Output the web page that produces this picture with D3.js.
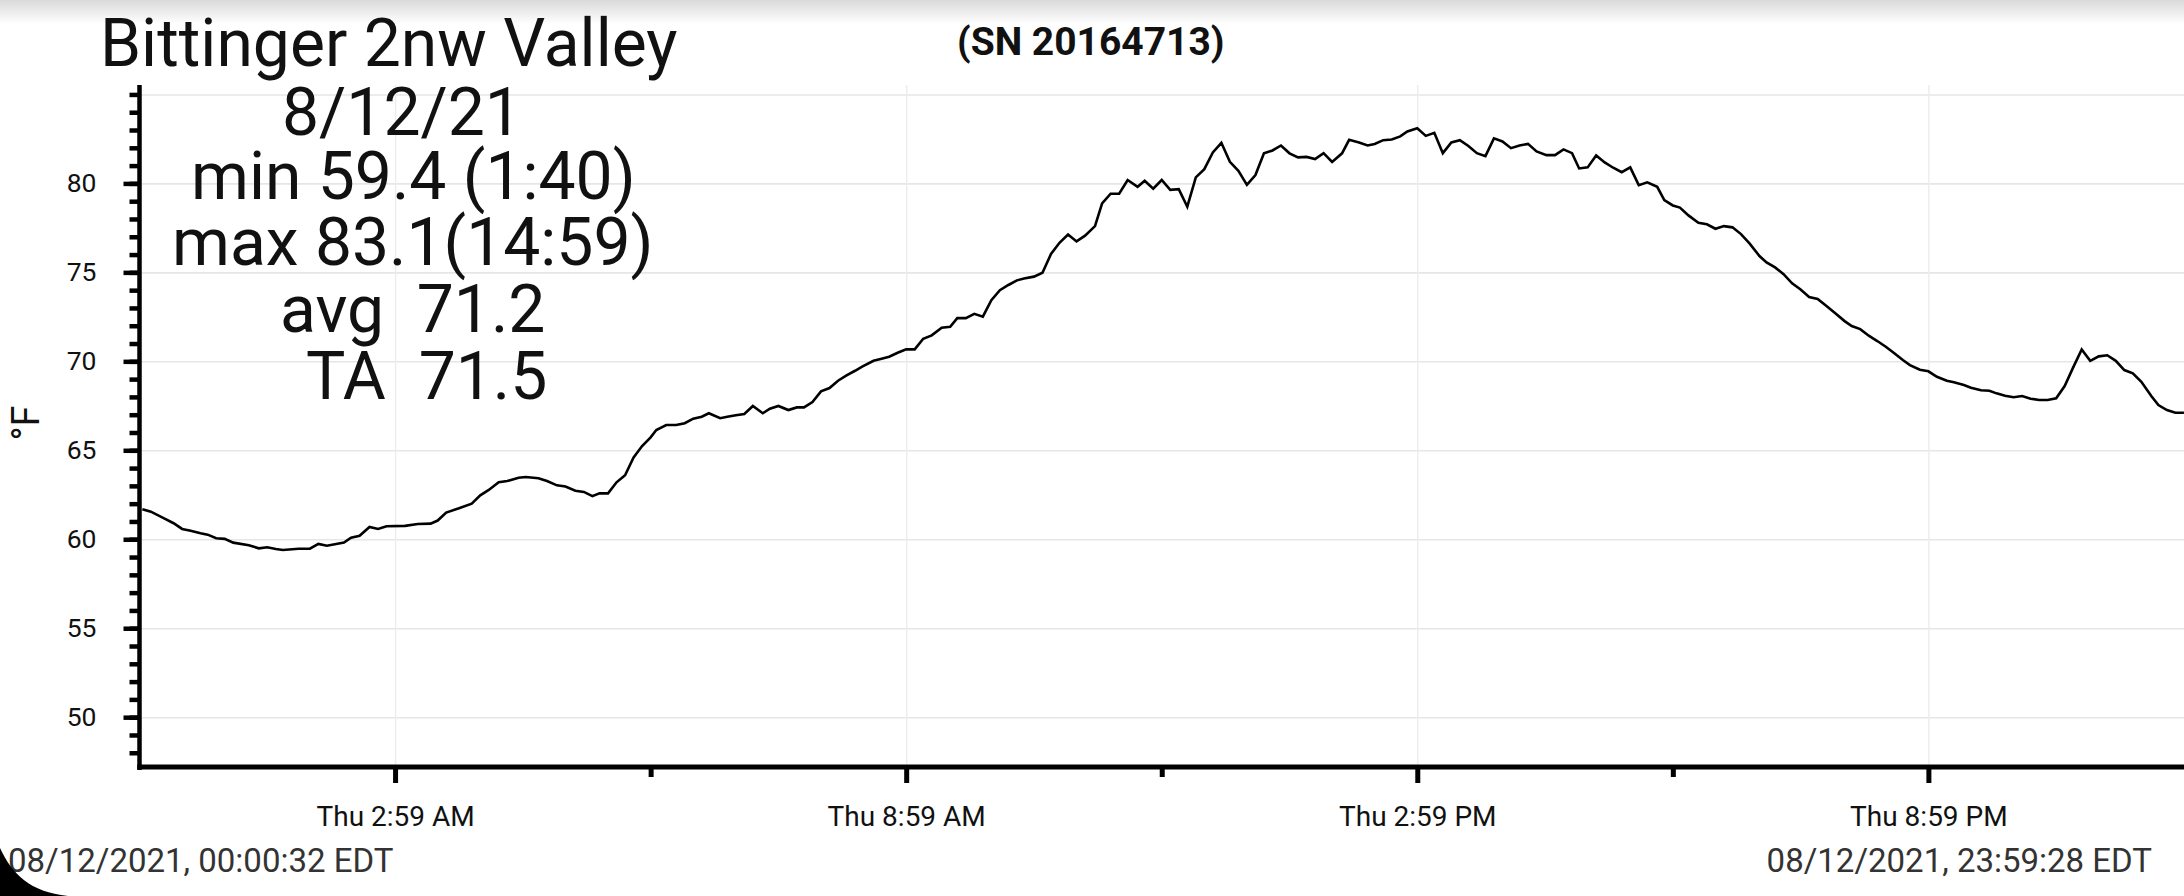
<!DOCTYPE html>
<html>
<head>
<meta charset="utf-8">
<script src="https://cdn.jsdelivr.net/npm/d3@7"></script>
<style>
  body { margin: 0; background: #fff; overflow: hidden; }
  svg { display: block; font-family: Roboto, "Noto Sans", sans-serif; }
  .stat { white-space: pre; }
</style>
</head>
<body>
<svg id="chart"></svg>
<script>
// readings, 12 Aug 2021 (local time)
var times = [
  "00:01","00:07","00:17","00:23","00:29","00:35","00:42","00:47","00:53","00:59",
  "01:05","01:16","01:23","01:29","01:35","01:40","01:51","01:59","02:05","02:11",
  "02:23","02:28","02:34","02:41","02:47","02:53","03:06","03:15","03:24","03:29",
  "03:35","03:44","03:53","03:59","04:05","04:12","04:18","04:26","04:31","04:40",
  "04:46","04:53","04:59","05:06","05:12","05:18","05:23","05:29","05:35","05:41",
  "05:47","05:53","05:59","06:03","06:10","06:17","06:23","06:29","06:35","06:40",
  "06:48","06:53","06:59","07:05","07:11","07:18","07:23","07:29","07:36","07:42",
  "07:47","07:53","07:59","08:05","08:11","08:17","08:23","08:28","08:36","08:41",
  "08:47","08:53","08:59","09:05","09:11","09:17","09:24","09:30","09:35","09:41",
  "09:47","09:53","09:59","10:05","10:11","10:17","10:22","10:29","10:35","10:41",
  "10:47","10:53","10:59","11:05","11:12","11:17","11:23","11:29","11:35","11:42",
  "11:47","11:53","11:59","12:05","12:11","12:17","12:23","12:29","12:35","12:41",
  "12:47","12:53","12:59","13:05","13:11","13:17","13:23","13:29","13:35","13:41",
  "13:47","13:53","13:59","14:06","14:11","14:18","14:24","14:29","14:35","14:41",
  "14:47","14:52","14:59","15:05","15:11","15:17","15:23","15:29","15:35","15:41",
  "15:47","15:53","15:59","16:05","16:11","16:17","16:23","16:30","16:36","16:42",
  "16:48","16:53","16:59","17:05","17:11","17:17","17:23","17:29","17:35","17:41",
  "17:48","17:53","17:59","18:04","18:10","18:17","18:23","18:29","18:35","18:41",
  "18:47","18:53","19:00","19:05","19:11","19:17","19:23","19:29","19:35","19:41",
  "19:47","19:53","20:00","20:05","20:11","20:17","20:23","20:29","20:35","20:41",
  "20:46","20:53","20:59","21:05","21:12","21:17","21:24","21:29","21:36","21:42",
  "21:47","21:53","21:59","22:05","22:11","22:17","22:23","22:29","22:35","22:41",
  "22:47","22:53","22:59","23:05","23:11","23:17","23:23","23:29","23:36","23:41",
  "23:47","23:53","23:59"
];
var temps = [
  61.69,61.55,61.14,60.90,60.58,60.48,60.34,60.26,60.06,60.02,
  59.81,59.66,59.49,59.55,59.45,59.40,59.47,59.47,59.74,59.64,
  59.81,60.09,60.20,60.69,60.58,60.73,60.75,60.86,60.88,61.05,
  61.50,61.74,62.00,62.47,62.77,63.20,63.27,63.46,63.50,63.43,
  63.27,63.03,62.96,62.73,62.66,62.42,62.58,62.58,63.20,63.60,
  64.60,65.24,65.73,66.14,66.42,66.42,66.52,66.78,66.89,67.08,
  66.80,66.89,66.97,67.04,67.49,67.08,67.34,67.49,67.26,67.41,
  67.41,67.71,68.31,68.50,68.91,69.21,69.47,69.70,70.03,70.13,
  70.26,70.48,70.67,70.67,71.27,71.46,71.89,71.94,72.43,72.43,
  72.67,72.51,73.44,74.00,74.29,74.55,74.66,74.76,74.98,76.03,
  76.66,77.13,76.74,77.06,77.60,78.88,79.42,79.42,80.19,79.81,
  80.15,79.70,80.19,79.64,79.68,78.69,80.34,80.80,81.74,82.28,
  81.21,80.71,79.92,80.47,81.69,81.85,82.13,81.69,81.46,81.49,
  81.37,81.70,81.21,81.69,82.45,82.30,82.13,82.22,82.43,82.47,
  82.64,82.92,83.10,82.67,82.84,81.70,82.30,82.43,82.10,81.70,
  81.53,82.53,82.36,81.98,82.13,82.22,81.80,81.59,81.59,81.91,
  81.70,80.84,80.90,81.57,81.18,80.88,80.63,80.90,79.90,80.06,
  79.81,79.06,78.76,78.64,78.20,77.79,77.70,77.45,77.60,77.53,
  77.15,76.63,75.92,75.56,75.28,74.90,74.38,74.04,73.61,73.50,
  73.12,72.73,72.26,71.98,71.81,71.44,71.14,70.82,70.45,70.07,
  69.79,69.53,69.44,69.13,68.91,68.82,68.67,68.52,68.37,68.35,
  68.20,68.07,67.98,68.05,67.90,67.83,67.83,67.92,68.61,69.66,
  70.67,70.03,70.28,70.34,70.03,69.51,69.33,68.85,68.05,67.54,
  67.26,67.11,67.11
];

var startTime = "00:00:32", endTime = "23:59:28";
var majorTicks = ["02:59","08:59","14:59","20:59"];
var minorTicks = ["05:59","11:59","17:59"];
var tickLabels = ["Thu 2:59 AM","Thu 8:59 AM","Thu 2:59 PM","Thu 8:59 PM"];
var yLabelTicks = [50,55,60,65,70,75,80];
var yGridTicks = [50,55,60,65,70,75,80,85];
var yMinorTicks = d3.range(48, 86);

var title = "Bittinger 2nw Valley";
var serial = "(SN 20164713)";
var statLines = ["8/12/21","min 59.4 (1:40)","max 83.1(14:59)","avg  71.2","TA  71.5"];
var footLeft = "08/12/2021, 00:00:32 EDT";
var footRight = "08/12/2021, 23:59:28 EDT";

var W = 2184, H = 896;
var svg = d3.select("#chart").attr("width", W).attr("height", H);

var parseHM = d3.timeParse("%H:%M"), parseHMS = d3.timeParse("%H:%M:%S");
var data = times.map(function(t, i){ return {t: parseHM(t), v: temps[i]}; });

var x = d3.scaleTime()
    .domain([parseHMS(startTime), parseHMS(endTime)])
    .range([141.7, 2184.6]);
var y = d3.scaleLinear()
    .domain([47.2, 85.53])
    .range([767, 85]);

var axisX = 139.5;

// top shadow band
var defs = svg.append("defs");
var grad = defs.append("linearGradient").attr("id", "topfade")
    .attr("x1", 0).attr("y1", 0).attr("x2", 0).attr("y2", 1);
grad.append("stop").attr("offset", "0%").attr("stop-color", "#d9d9d9");
grad.append("stop").attr("offset", "100%").attr("stop-color", "#ffffff");
svg.append("rect").attr("x", 0).attr("y", 0).attr("width", W).attr("height", 24)
    .attr("fill", "url(#topfade)");

// grid
svg.append("g")
    .attr("transform", "translate(" + axisX + ",0)")
    .call(d3.axisLeft(y).tickValues(yGridTicks).tickSize(-(W - axisX)).tickFormat(""))
    .call(function(g){
      g.select(".domain").remove();
      g.selectAll("line").attr("stroke", "#e6e6e6").attr("stroke-width", 1.6);
    });
svg.append("g")
    .attr("transform", "translate(0,85)")
    .call(d3.axisBottom(x).tickValues(majorTicks.map(parseHM)).tickSize(682).tickFormat(""))
    .call(function(g){
      g.select(".domain").remove();
      g.selectAll("line").attr("stroke", "#ececec").attr("stroke-width", 1.4);
    });

// temperature line
var line = d3.line()
    .x(function(d){ return x(d.t); })
    .y(function(d){ return y(d.v); });
svg.append("path")
    .datum(data)
    .attr("d", line)
    .attr("fill", "none")
    .attr("stroke", "#000")
    .attr("stroke-width", 2.6);

// y axis
svg.append("g")
    .attr("transform", "translate(" + axisX + ",0)")
    .call(d3.axisLeft(y).tickValues(yMinorTicks).tickSize(10).tickFormat(""))
    .call(function(g){
      g.select(".domain").remove();
      g.selectAll("line").attr("stroke", "#000").attr("stroke-width", 4.5);
    });
svg.append("g")
    .attr("transform", "translate(" + axisX + ",0)")
    .call(d3.axisLeft(y).tickValues(yLabelTicks).tickSize(16).tickPadding(27).tickFormat(d3.format("d")))
    .call(function(g){
      g.select(".domain").remove();
      g.selectAll("line").attr("stroke", "#000").attr("stroke-width", 4.5);
      g.selectAll("text").attr("font-size", 26.5).attr("fill", "#111")
        .attr("font-family", "Roboto, sans-serif");
    });
svg.append("line")
    .attr("x1", axisX).attr("x2", axisX)
    .attr("y1", 85).attr("y2", 770)
    .attr("stroke", "#000").attr("stroke-width", 4.5);

// x axis
svg.append("g")
    .attr("transform", "translate(0,767)")
    .call(d3.axisBottom(x).tickValues(minorTicks.map(parseHM)).tickSize(10).tickFormat(""))
    .call(function(g){
      g.select(".domain").remove();
      g.selectAll("line").attr("stroke", "#000").attr("stroke-width", 5);
    });
svg.append("g")
    .attr("transform", "translate(0,767)")
    .call(d3.axisBottom(x).tickValues(majorTicks.map(parseHM)).tickSize(16).tickPadding(23)
      .tickFormat(function(d, i){ return tickLabels[i]; }))
    .call(function(g){
      g.select(".domain").remove();
      g.selectAll("line").attr("stroke", "#000").attr("stroke-width", 5);
      g.selectAll("text").attr("font-size", 28).attr("fill", "#111")
        .attr("font-family", "Roboto, sans-serif");
    });
svg.append("line")
    .attr("x1", axisX - 2.25).attr("x2", W)
    .attr("y1", 767).attr("y2", 767)
    .attr("stroke", "#000").attr("stroke-width", 5);

// y axis title
svg.append("text")
    .attr("transform", "translate(39,423) rotate(-90)")
    .attr("text-anchor", "middle")
    .attr("font-size", 38)
    .attr("fill", "#111")
    .text("°F");

// title and stats
svg.append("text")
    .attr("x", 100).attr("y", 66)
    .attr("font-size", 66).attr("fill", "#111")
    .text(title);
svg.append("text")
    .attr("x", 957).attr("y", 55)
    .attr("font-size", 39).attr("font-weight", "bold").attr("fill", "#111")
    .text(serial);

var statX = [282, 191, 172, 280, 306];
var statY = [135, 199, 265, 332, 399];
svg.selectAll("text.stat")
    .data(statLines)
    .enter().append("text")
    .attr("class", "stat")
    .attr("x", function(d, i){ return statX[i]; })
    .attr("y", function(d, i){ return statY[i]; })
    .attr("font-size", 66)
    .attr("fill", "#111")
    .text(function(d){ return d; });

// footer timestamps
svg.append("text")
    .attr("x", 8).attr("y", 872)
    .attr("font-size", 33).attr("fill", "#333")
    .text(footLeft);
svg.append("text")
    .attr("x", 2152).attr("y", 872)
    .attr("text-anchor", "end")
    .attr("font-size", 33).attr("fill", "#333")
    .text(footRight);

// rounded screen corner
svg.append("path")
    .attr("d", "M0,848 C12,874 30,892 68,896 L0,896 Z")
    .attr("fill", "#000");
</script>
</body>
</html>
